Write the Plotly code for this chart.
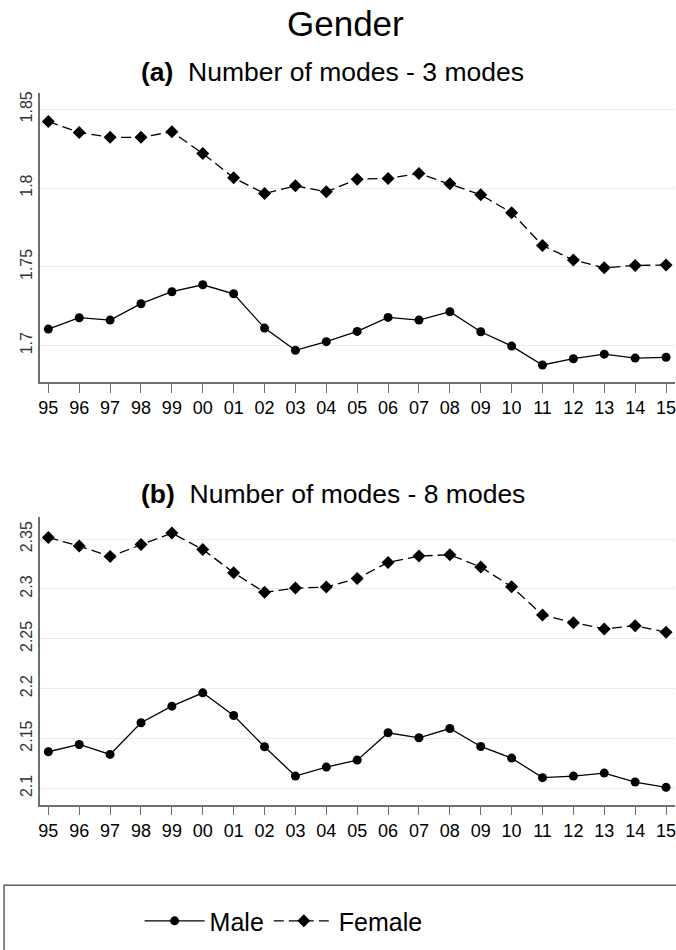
import plotly.graph_objects as go

# Survey years (two-digit labels) and mean number of modes by gender
years = ["95", "96", "97", "98", "99", "00", "01", "02", "03", "04",
         "05", "06", "07", "08", "09", "10", "11", "12", "13", "14", "15"]

male_3 = [1.7105, 1.7177, 1.7162, 1.7266, 1.7342, 1.7386, 1.7329, 1.7111, 1.6970, 1.7025,
          1.7090, 1.7179, 1.7162, 1.7215, 1.7088, 1.6997, 1.6877, 1.6917, 1.6946, 1.6921, 1.6926]
female_3 = [1.8422, 1.8352, 1.8322, 1.8322, 1.8357, 1.8219, 1.8065, 1.7965, 1.8014, 1.7976,
            1.8056, 1.8061, 1.8092, 1.8027, 1.7957, 1.7843, 1.7636, 1.7543, 1.7494, 1.7509, 1.7511]

male_8 = [2.1367, 2.1440, 2.1340, 2.1658, 2.1824, 2.1958, 2.1731, 2.1417, 2.1123, 2.1213,
          2.1283, 2.1557, 2.1507, 2.1600, 2.1420, 2.1303, 2.1107, 2.1123, 2.1153, 2.1063, 2.1010]
female_8 = [2.3516, 2.3430, 2.3326, 2.3446, 2.3560, 2.3396, 2.3163, 2.2966, 2.3009, 2.3019,
            2.3106, 2.3266, 2.3330, 2.3343, 2.3220, 2.3022, 2.2739, 2.2662, 2.2599, 2.2632, 2.2565]

ticks_3 = [1.7, 1.75, 1.8, 1.85]
ticks_8 = [2.1, 2.15, 2.2, 2.25, 2.3, 2.35]

FONT = "Liberation Sans, Arial, sans-serif"
idx = list(range(len(years)))

fig = go.Figure()

male_style = dict(mode="lines+markers", line=dict(color="black", width=1.3),
                  marker=dict(symbol="circle", size=9, color="black"))
female_style = dict(mode="lines+markers", line=dict(color="black", width=1.3, dash="10px,5px"),
                    marker=dict(symbol="diamond", size=10, color="black"))

fig.add_trace(go.Scatter(x=idx, y=male_3, name="Male", xaxis="x", yaxis="y", **male_style))
fig.add_trace(go.Scatter(x=idx, y=female_3, name="Female", xaxis="x", yaxis="y", **female_style))
fig.add_trace(go.Scatter(x=idx, y=male_8, name="Male", xaxis="x2", yaxis="y2",
                         showlegend=False, **male_style))
fig.add_trace(go.Scatter(x=idx, y=female_8, name="Female", xaxis="x2", yaxis="y2",
                         showlegend=False, **female_style))

xax = dict(range=[-0.27, 20.29], tickvals=idx, ticktext=years, showgrid=False,
           showline=True, linecolor="#707070", linewidth=1.5, ticks="outside",
           ticklen=9, tickcolor="#707070", tickwidth=1.2, zeroline=False,
           ticklabeloverflow="allow",
           tickfont=dict(family=FONT, size=18, color="black"), domain=[0, 1])
yax = dict(showgrid=True, gridcolor="#ebebeb", gridwidth=1.2, showline=True,
           linecolor="#707070", linewidth=1.5, ticks="", zeroline=False,
           tickangle=-90, tickfont=dict(family=FONT, size=16, color="#333"))

fig.update_layout(
    width=676, height=950,
    margin=dict(l=40, r=0, t=0, b=0),
    plot_bgcolor="white", paper_bgcolor="white",
    xaxis=dict(xax, anchor="y"),
    yaxis=dict(yax, domain=[0.5993, 0.9035], range=[1.677, 1.860], tickvals=ticks_3,
               ticktext=[f"{v:g}" for v in ticks_3], anchor="x"),
    xaxis2=dict(xax, anchor="y2"),
    yaxis2=dict(yax, domain=[0.1534, 0.4572], range=[2.0837, 2.3726], tickvals=ticks_8,
                ticktext=[f"{v:g}" for v in ticks_8], anchor="x2"),
    showlegend=True,
    legend=dict(orientation="h", x=(284 - 40) / 636, xanchor="center", y=0.0305,
                yanchor="middle", font=dict(family=FONT, size=25, color="black"),
                itemwidth=60, bgcolor="rgba(0,0,0,0)"),
    font=dict(family=FONT),
)

fig.add_annotation(text="Gender", xref="paper", yref="paper", x=(346 - 40) / 636,
                   y=1 - 22 / 950, xanchor="center", yanchor="middle", showarrow=False,
                   font=dict(family=FONT, size=35, color="black"))
fig.add_annotation(text="<b>(a)</b>  Number of modes - 3 modes", xref="paper", yref="paper",
                   x=(333 - 40) / 636, y=1 - 70 / 950, xanchor="center", yanchor="middle",
                   showarrow=False, font=dict(family=FONT, size=26.5, color="black"))
fig.add_annotation(text="<b>(b)</b>  Number of modes - 8 modes", xref="paper", yref="paper",
                   x=(333 - 40) / 636, y=1 - 493 / 950, xanchor="center", yanchor="middle",
                   showarrow=False, font=dict(family=FONT, size=26.5, color="black"))

# Frame around the legend
fig.add_shape(type="rect", xref="paper", yref="paper", x0=-36 / 636, x1=1.01,
              y0=-0.01, y1=1 - 885 / 950, line=dict(color="#606060", width=1.5),
              fillcolor="rgba(0,0,0,0)")

fig.write_html("out.html")
